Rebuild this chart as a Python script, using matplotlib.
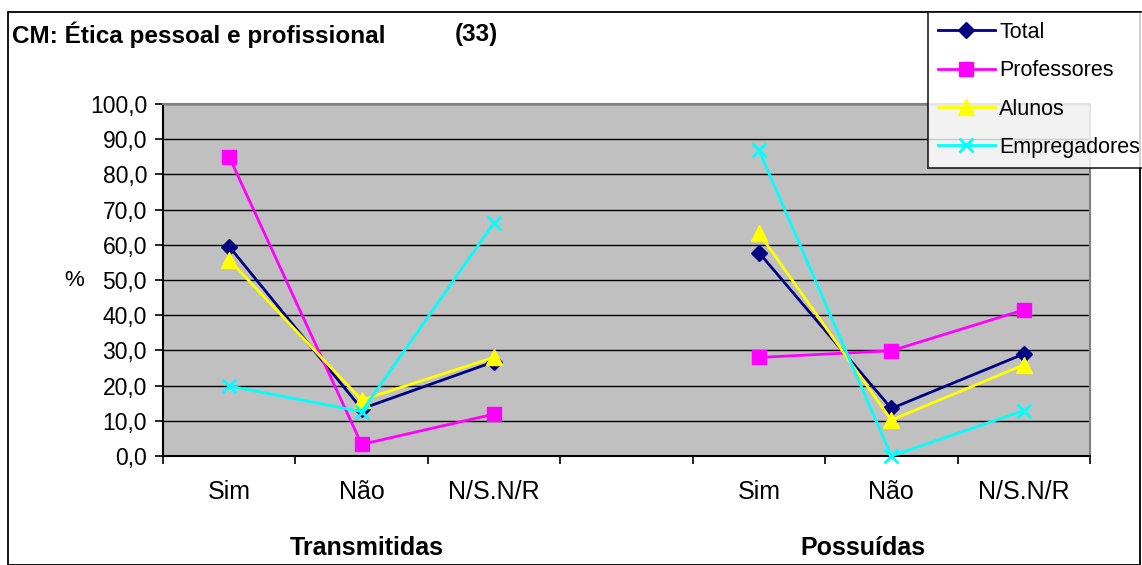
import numpy as np
import matplotlib
matplotlib.use("Agg")
import matplotlib.pyplot as plt
from matplotlib.patches import Rectangle
from matplotlib.ticker import FixedLocator, FuncFormatter

plt.rcParams['font.family'] = ['Liberation Sans', 'DejaVu Sans']

# ---- data ----
categories = ["Sim", "Não", "N/S.N/R", "", "Sim", "Não", "N/S.N/R"]
groups = ["Transmitidas", "Possuídas"]
nan = np.nan
total = [59.5, 13.4, 26.8, nan, 57.8, 13.5, 29.0]
professores = [85.0, 3.3, 11.9, nan, 28.0, 29.9, 41.5]
alunos = [55.7, 15.9, 28.0, nan, 63.3, 10.2, 25.9]
empregadores = [19.9, 12.6, 66.3, nan, 86.9, 0.0, 12.9]
series_names = ["Total", "Professores", "Alunos", "Empregadores"]
title = "CM: Ética pessoal e profissional"
title_num = "(33)"

W, H = 1142, 565
fig = plt.figure(figsize=(W / 100, H / 100), dpi=100)

# outer chart border
fig.patches.append(Rectangle((8 / W, 0), (1140 - 8) / W, 1 - 12 / H,
                             transform=fig.transFigure, fill=False,
                             edgecolor='black', linewidth=1.3, zorder=0))

ax = fig.add_axes([163 / W, 1 - 456 / H, (1090 - 163) / W, (456 - 104) / H])
ax.set_facecolor('#C0C0C0')
x = np.arange(len(categories))

styles = [
    dict(color='#000080', marker='D', markersize=8.5),
    dict(color='#FF00FF', marker='s', markersize=10),
    dict(color='#FFFF00', marker='^', markersize=11),
    dict(color='#00FFFF', marker='x', markersize=10, markeredgewidth=2),
]
data = [total, professores, alunos, empregadores]
lines = []
for name, vals, st in zip(series_names, data, styles):
    l, = ax.plot(x, vals, linewidth=2, label=name, clip_on=False, zorder=3, **st)
    lines.append(l)

ax.set_xlim(-0.5, len(categories) - 0.5)
ax.set_ylim(0, 100)
ax.yaxis.set_major_locator(FixedLocator(np.arange(0, 101, 10)))
ax.yaxis.set_major_formatter(FuncFormatter(lambda v, p: f"{v:.1f}".replace('.', ',')))
ax.grid(axis='y', color='black', linewidth=1, zorder=1)
ax.set_axisbelow(True)

ax.set_xticks([i for i, c in enumerate(categories) if c])
ax.set_xticklabels([c for c in categories if c])
ax.set_xticks(np.arange(-0.5, len(categories), 1), minor=True)
ax.tick_params(axis='x', which='major', length=0, pad=17, labelsize=18)
ax.tick_params(axis='x', which='minor', length=6, width=1.2, direction='out')
ax.tick_params(axis='y', length=6, width=1.2, direction='out', labelsize=16.5, pad=5.5)

for s in ['left', 'bottom']:
    ax.spines[s].set_color('black')
    ax.spines[s].set_linewidth(1.5)
for s in ['top', 'right']:
    ax.spines[s].set_color('#808080')
    ax.spines[s].set_linewidth(1.5)

fig.text(64 / W, 1 - 280 / H, "%", fontsize=16, ha='left', va='center')

fig.text(12 / W, 1 - 35 / H, title, fontsize=17.5, fontweight='bold', ha='left', va='center')
fig.text(455 / W, 1 - 35 / H, title_num, fontsize=17.5, fontweight='bold', ha='left', va='center')

fig.text(367 / W, 1 - 548 / H, groups[0], fontsize=18, fontweight='bold', ha='center', va='center')
fig.text(863 / W, 1 - 548 / H, groups[1], fontsize=18, fontweight='bold', ha='center', va='center')

leg = fig.legend(handles=lines, loc='upper left', bbox_to_anchor=(928 / W, 1 - 12 / H),
                 frameon=True, fancybox=False, fontsize=15.5, handlelength=2.65,
                 handletextpad=0.2, labelspacing=0.81, borderpad=0.45, borderaxespad=0)
leg.get_frame().set_edgecolor('black')
leg.get_frame().set_linewidth(1.3)

fig.savefig("out.png", dpi=100, facecolor='white')
